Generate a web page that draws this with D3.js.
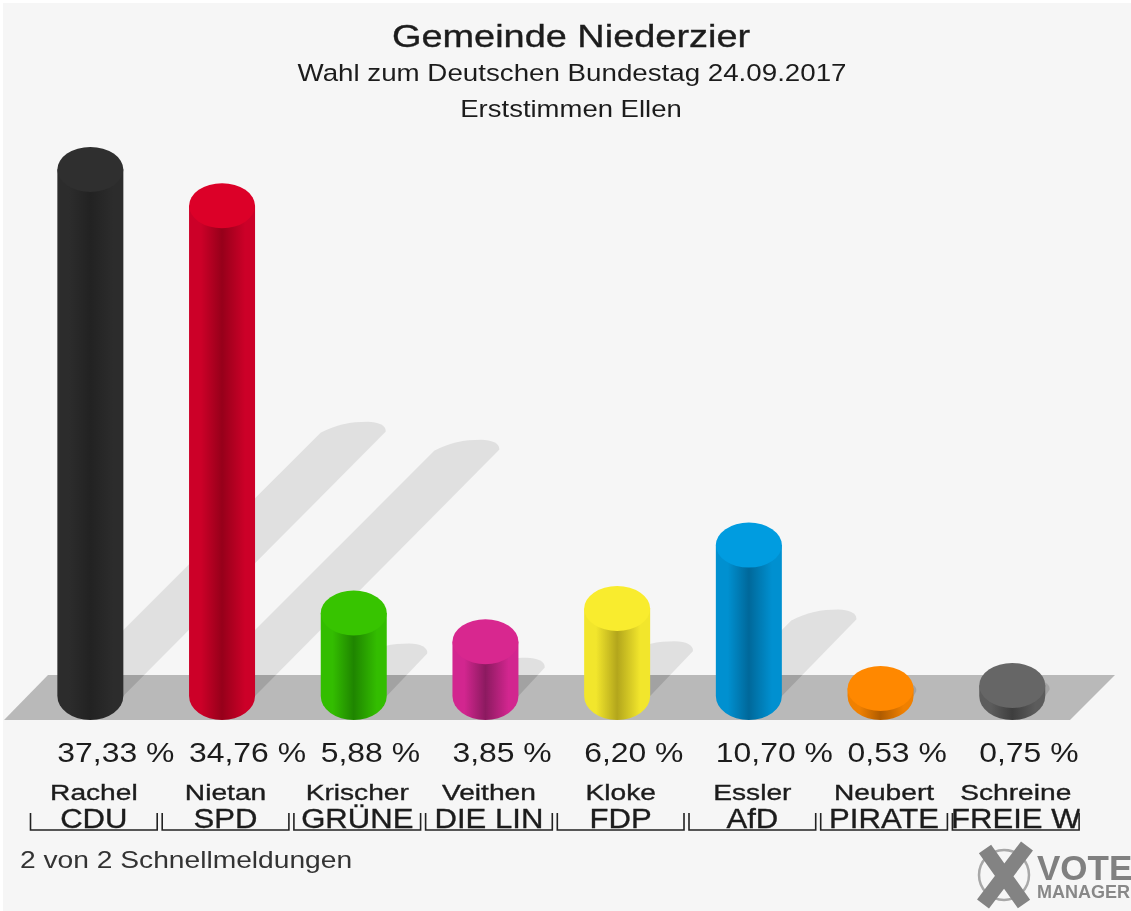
<!DOCTYPE html>
<html lang="de">
<head>
  <meta charset="UTF-8">
  <script src="https://cdn.jsdelivr.net/npm/d3@7/dist/d3.min.js"></script>
  <style>
    html, body { margin: 0; padding: 0; background: #f6f6f6; }
    svg { display: block; filter: blur(0.5px); }
    text { font-family: "Liberation Sans", Arial, sans-serif; fill: #1c1c1c; }
    .heavy { stroke: #1c1c1c; stroke-width: 0.35px; }
  </style>
</head>
<body>
<svg></svg>
<script>
  var candidates = ["Rachel", "Nietan", "Krischer", "Veithen", "Kloke", "Essler", "Neubert", "Schreine"];
  var parties = ["CDU", "SPD", "GRÜNE", "DIE LIN", "FDP", "AfD", "PIRATE", "FREIE W"];
  var percents = [37.33, 34.76, 5.88, 3.85, 6.20, 10.70, 0.53, 0.75];

  // edge, middle and cap colour of each cylinder
  var edgeColors = ["#2c2c2c", "#cc0028", "#33bd00", "#d2268f", "#f2e62c", "#0090d0", "#f08000", "#5c5c5c"];
  var midColors = ["#222222", "#96001a", "#1f8500", "#8c1a60", "#b3a61c", "#00689a", "#b05c00", "#3e3e3e"];
  var capColors = ["#2f2f2f", "#dc0028", "#37c400", "#d8278f", "#f9ec2e", "#009ce0", "#ff8800", "#666666"];

  var width = 1131, height = 911;
  var base = 696, rx = 33, ry = 22.5;

  var svg = d3.select("svg").attr("width", width).attr("height", height);
  var defs = svg.append("defs");

  var rows = parties.map(function(p, i) {
    return {party: p, name: candidates[i], value: percents[i], i: i};
  });

  // brackets under the bars sit on the band, the bars slightly left of its centre
  var xScale = d3.scaleBand().domain(parties).range([28, 1081.6]);
  var yScale = d3.scaleLinear().domain([0, 37.33]).range([base, 169.5]);
  var cx = function(d) { return xScale(d.party) + xScale.bandwidth() / 2 - 3.5; };

  // the source picture is stretched sideways, so text gets an x scale
  function addText(parent, x, y, size, sx, anchor, str) {
    return parent.append("text")
      .attr("transform", "translate(" + x + "," + y + ") scale(" + sx + ",1)")
      .attr("text-anchor", anchor)
      .attr("font-size", size)
      .text(str);
  }

  // white rim on top and left of the page
  svg.append("rect").attr("width", width).attr("height", 3).attr("fill", "#ffffff");
  svg.append("rect").attr("width", 3).attr("height", height).attr("fill", "#ffffff");

  var floor = "M4,720L48,675L1115,675L1070,720Z";
  defs.append("clipPath").attr("id", "floorClip").append("path").attr("d", floor);

  // slanted shadows, half as long as the bar height
  function shadowPath(d) {
    var h = (base - yScale(d.value)) * 0.5;
    var x0 = cx(d), a = x0 - rx + h, b = base - h;
    return "M" + (x0 - rx) + "," + base +
      "L" + a + "," + b +
      "C" + (a + 15) + "," + (b - 8) + " " + (a + 30) + "," + (b - 11) + " " + (a + 47) + "," + (b - 11) +
      "C" + (a + 58) + "," + (b - 11) + " " + (a + 66) + "," + (b - 7) + " " + (a + 65) + "," + (b - 1) +
      "L" + (x0 + rx) + "," + base + "Z";
  }

  svg.append("g").selectAll("path").data(rows).enter().append("path")
    .attr("d", shadowPath)
    .attr("fill", "#e0e0e0");

  svg.append("path").attr("d", floor).attr("fill", "#b9b9b9");

  svg.append("g").attr("clip-path", "url(#floorClip)")
    .selectAll("path").data(rows).enter().append("path")
    .attr("d", shadowPath)
    .attr("fill", "#a2a2a2");

  // cylinder shading
  rows.forEach(function(d) {
    var g = defs.append("linearGradient").attr("id", "bar" + d.i);
    g.append("stop").attr("offset", "0%").attr("stop-color", edgeColors[d.i]);
    g.append("stop").attr("offset", "18%").attr("stop-color", edgeColors[d.i]);
    g.append("stop").attr("offset", "50%").attr("stop-color", midColors[d.i]);
    g.append("stop").attr("offset", "85%").attr("stop-color", edgeColors[d.i]);
    g.append("stop").attr("offset", "100%").attr("stop-color", edgeColors[d.i]);
  });

  var bar = svg.append("g").selectAll("g").data(rows).enter().append("g");

  bar.append("path")
    .attr("d", function(d) {
      var x0 = cx(d), top = yScale(d.value);
      return "M" + (x0 - rx) + "," + top +
        "L" + (x0 - rx) + "," + base +
        "A" + rx + "," + (720 - base) + " 0 0 0 " + (x0 + rx) + "," + base +
        "L" + (x0 + rx) + "," + top + "Z";
    })
    .attr("fill", function(d) { return "url(#bar" + d.i + ")"; });

  bar.append("ellipse")
    .attr("cx", cx)
    .attr("cy", function(d) { return yScale(d.value); })
    .attr("rx", rx)
    .attr("ry", ry)
    .attr("fill", function(d) { return capColors[d.i]; });

  // title block
  addText(svg, 571, 47, 32, 1.185, "middle", "Gemeinde Niederzier").attr("class", "heavy");
  addText(svg, 572, 81, 23.5, 1.18, "middle", "Wahl zum Deutschen Bundestag 24.09.2017");
  addText(svg, 571, 117, 23.5, 1.17, "middle", "Erststimmen Ellen");

  // percent labels start at the left side of the bar
  var fmt = d3.format(".2f");
  var percentGroup = svg.append("g");
  rows.forEach(function(d) {
    addText(percentGroup, cx(d) - rx, 762, 27.5, 1.16, "start", fmt(d.value).replace(".", ",") + " %");
  });

  // names, parties and brackets
  var bw = xScale.bandwidth();

  defs.append("clipPath").attr("id", "labelClip").append("rect")
    .attr("x", 2).attr("y", 770).attr("width", bw - 4).attr("height", 70);

  var tick = svg.append("g").selectAll("g").data(rows).enter().append("g")
    .attr("transform", function(d) { return "translate(" + xScale(d.party) + ",0)"; });

  tick.each(function(d) {
    var labels = d3.select(this).append("g").attr("clip-path", "url(#labelClip)");
    addText(labels, bw / 2, 800, 22, 1.28, "middle", d.name).attr("class", "heavy");
    addText(labels, bw / 2, 828, 28, 1.11, "middle", d.party).attr("class", "heavy");
  });

  tick.append("path")
    .attr("d", "M2.5,813V830H" + (bw - 2.5) + "V813")
    .attr("fill", "none")
    .attr("stroke", "#222")
    .attr("stroke-width", 1.6);

  addText(svg, 20, 868, 23.5, 1.2, "start", "2 von 2 Schnellmeldungen").style("fill", "#333");

  // logo
  var logo = svg.append("g").attr("transform", "translate(1004,875)");
  logo.append("ellipse").attr("rx", 25).attr("ry", 25)
    .attr("fill", "none").attr("stroke", "#a8a8a8").attr("stroke-width", 2.5);
  logo.append("path").attr("d", "M-19,-26L20,29M23,-29L-21,29")
    .attr("stroke", "#838383").attr("stroke-width", 15).attr("fill", "none");
  addText(svg, 1037, 880, 35, 1, "start", "VOTE").attr("font-weight", "bold").style("fill", "#808080");
  addText(svg, 1037, 898, 18, 1, "start", "MANAGER").attr("font-weight", "bold").style("fill", "#888888");
</script>
</body>
</html>
